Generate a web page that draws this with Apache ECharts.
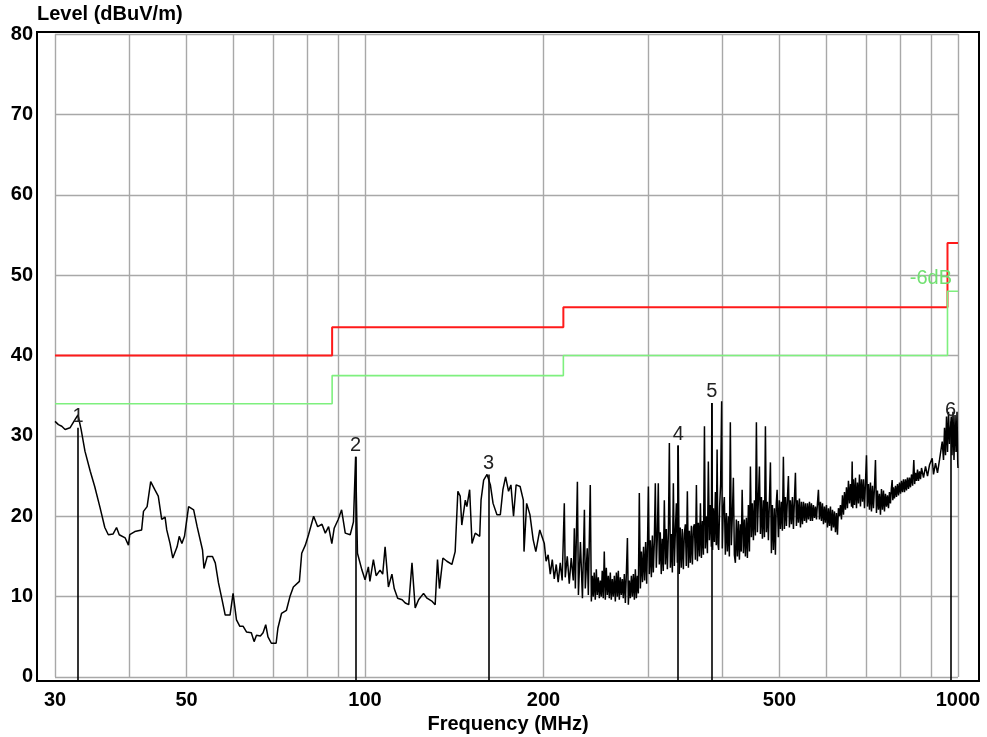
<!DOCTYPE html>
<html>
<head>
<meta charset="utf-8">
<script src="https://cdn.jsdelivr.net/npm/echarts@6/dist/echarts.min.js"></script>
<style>
  html, body { margin: 0; padding: 0; background: #fff; }
  #chart { width: 987px; height: 737px; }
</style>
</head>
<body>
<div id="chart"></div>
<script>
// Grid positions and tick labels (MHz / dBuV/m)
const freqTicks = [30, 40, 50, 60, 70, 80, 90, 100, 200, 300, 400, 500, 600, 700, 800, 900, 1000];
const freqLabels = [30, 50, 100, 200, 500, 1000];
const levelTicks = [0, 10, 20, 30, 40, 50, 60, 70, 80];

// Limit line (step edges in MHz, level per band) and the -6 dB margin line
const limitFreq = [30, 88, 216, 960, 1000];
const limitLevel = [40, 43.5, 46, 54];
const marginLevel = [34, 37.5, 40, 48];

// Measured sweep
const traceFreq = [
  30.0, 30.4, 30.8, 31.2, 31.8, 32.4, 32.8, 33.2, 33.7, 34.4, 35.0, 35.7, 36.4, 36.9, 37.6, 38.1, 38.5, 39.4, 39.9, 40.1,
  40.9, 42.0, 42.3, 42.9, 43.5, 44.2, 44.8, 45.4, 46.0, 46.3, 46.9, 47.4, 48.2, 48.6, 49.1, 49.6, 50.4, 51.4, 52.1, 53.2,
  53.5, 54.2, 55.3, 55.9, 56.6, 57.4, 58.1, 59.2, 59.9, 60.7, 61.5, 62.3, 63.1, 64.3, 65.0, 65.6, 66.6, 67.3, 68.0, 68.6,
  69.5, 70.8, 71.3, 72.3, 73.7, 74.7, 75.7, 77.5, 78.2, 79.3, 80.3, 81.9, 83.2, 84.6, 85.7, 86.8, 87.9, 88.7, 90.1, 91.3,
  92.6, 94.4, 95.6, 96.4, 97.1,
  98.8, 100.0, 101.3, 101.9, 103.3, 104.4, 106.0, 107.1, 108.1, 109.5, 111.0, 112.0, 113.5, 115.5, 116.9, 118.5, 120.0, 121.5,
  123.1, 125.5, 127.2, 129.8, 131.3, 132.5, 133.5, 135.3, 137.4, 140.1, 141.9, 143.4, 144.7, 145.6, 147.6, 148.5, 150.1, 151.5,
  153.4, 156.1, 156.9, 158.5, 160.6, 161.6, 162.7, 164.4, 166.9, 169.1, 170.8, 172.6, 174.6, 176.2, 178.0, 179.8, 182.6, 184.9,
  185.4, 187.3, 189.7, 192.1, 194.1, 197.1,
  200.6, 202.0, 203.6, 205.3, 206.9, 208.5, 210.1, 211.7, 213.4, 215.0, 216.8, 217.6, 219.3, 221.0, 222.7, 224.5, 225.4, 226.3,
  228.1, 229.0, 230.8, 232.6, 234.4, 235.2, 237.0, 238.0, 239.8,
  240.8, 241.7, 242.6, 243.5, 244.5, 245.5, 246.4, 247.4, 248.4, 249.3, 250.3, 251.2, 252.2, 253.2, 254.2, 255.2,
  256.2, 257.2, 258.2, 259.2, 260.2, 261.2, 262.2, 263.3, 264.3, 265.4, 266.4, 267.4, 268.4, 269.5, 270.5, 271.6,
  272.6, 273.7, 274.8, 275.9, 277.0, 278.0, 279.1, 280.2, 281.3, 282.4, 283.5, 284.6, 285.7, 286.8, 287.9, 289.0,
  290.1, 291.3, 292.5, 293.7, 294.9, 296.1, 297.3, 298.5, 299.6, 300.5, 301.6, 302.8, 304.0, 305.2, 306.3, 307.5, 308.7, 309.9, 311.1, 312.3,
  313.5, 314.7, 315.9, 317.1, 318.4, 319.7, 321.0, 322.2, 323.5, 324.8, 326.0, 327.3, 328.6, 329.8, 331.1, 332.4, 333.7, 335.0, 336.3, 337.4,
  338.8, 340.1, 341.5, 342.8, 344.2, 345.5, 346.9, 348.2, 349.6, 351.0, 352.4, 353.7, 355.1, 356.5, 357.9, 359.3, 360.7, 362.1, 363.5, 364.9,
  366.4, 367.8, 369.2, 370.7, 372.1, 373.6, 374.9, 376.4, 377.9, 379.3, 380.8, 382.3, 383.8, 384.4, 385.6, 386.8, 388.3, 389.8, 391.1, 392.4,
  393.6, 394.8, 396.3, 397.8, 399.4, 400.4, 401.8, 403.6, 405.2, 406.8, 408.4, 410.0, 411.5, 413.1, 414.7, 416.4, 418.0, 419.6, 421.3, 422.9,
  424.6, 426.2, 427.9, 429.5, 431.0, 432.5, 434.6, 436.3, 438.0, 439.7, 441.4, 443.1, 444.9, 446.6, 448.3, 450.0, 451.8, 453.5, 455.3, 457.1,
  458.9, 460.7, 462.5, 464.3, 466.1, 467.9, 469.8, 471.6, 473.4, 475.2, 477.0, 478.9, 480.8, 482.7, 484.5, 486.4, 488.3, 490.2, 492.1, 493.8,
  495.4, 497.8, 499.7, 501.7, 503.6, 505.6, 507.6, 509.6, 511.6, 513.6, 515.6, 517.6, 519.6, 521.6, 523.7, 525.7, 527.8, 529.8, 531.9, 534.0,
  536.0, 538.1, 540.2, 542.4, 544.5, 546.6, 548.8, 550.9, 553.0, 555.2, 557.3, 559.5, 561.7, 563.9, 566.0,
  568.2, 570.4, 572.7, 574.9, 577.2, 579.4, 581.6, 583.9, 586.2, 588.5, 590.8, 593.1, 595.4, 597.7, 600.0, 602.4, 604.7, 607.1, 609.4, 611.8,
  614.2, 616.6, 619.0, 621.4, 623.8, 626.2, 628.6, 631.1, 633.5, 636.0, 638.5, 641.0, 643.5, 646.0, 648.5, 651.0, 653.5, 656.1, 658.7, 661.3,
  663.0, 664.7, 666.4, 669.0, 671.6, 674.2, 676.8, 679.4, 682.1, 684.7, 687.4, 690.1, 692.8, 695.5, 698.2, 700.9, 703.6, 706.3, 709.1, 711.8,
  714.6, 717.4, 720.2, 723.0, 725.8, 728.6, 731.4, 734.3, 737.1, 740.0, 742.9, 745.8, 748.7, 751.6, 754.5, 757.5, 760.4, 763.4, 766.3, 769.3,
  772.0, 774.4, 776.4, 778.4, 781.4, 784.5, 787.5, 790.6, 793.7, 796.8, 799.9, 803.0, 806.1, 809.3, 812.4, 815.6, 818.7, 821.9, 825.1, 828.3,
  831.5, 834.8, 838.5, 842.3, 845.1, 847.9, 851.2, 854.5, 857.8, 861.2, 864.5,
  867.9, 874.7, 881.5, 888.4, 895.3, 904.7, 909.3, 916.4, 923.5, 930.7, 940.6, 945.3, 949.0, 952.7, 956.4, 960.2, 963.9, 967.7,
  974.1, 977.0, 980.8, 984.6, 988.5, 992.4, 996.2, 999.0, 1000.0
];
const traceLevel = [
  31.8, 31.4, 31.2, 30.8, 31.0, 32.0, 32.6, 30.8, 28.1, 25.6, 23.7, 21.2, 18.6, 17.7, 17.8, 18.6, 17.7, 17.3, 16.4, 17.7,
  18.1, 18.3, 20.6, 21.2, 24.3, 23.3, 22.5, 19.6, 19.9, 18.3, 16.6, 14.8, 16.2, 17.5, 16.6, 17.5, 21.2, 20.8, 18.7, 15.8,
  13.5, 15.0, 15.0, 14.2, 11.7, 9.6, 7.7, 7.7, 10.4, 7.1, 6.3, 6.3, 5.6, 5.5, 4.4, 5.2, 5.1, 5.5, 6.5, 5.0,
  4.2, 4.2, 6.1, 7.9, 8.3, 10.0, 11.2, 11.9, 15.4, 16.4, 17.7, 20.0, 18.7, 19.0, 17.9, 18.7, 16.6, 18.5, 19.6, 20.8,
  17.9, 17.7, 19.3, 27.4, 15.4,
  13.3, 12.1, 13.7, 11.9, 14.6, 12.6, 13.3, 12.8, 16.2, 11.2, 12.8, 11.0, 9.8, 9.6, 9.2, 9.0, 14.2, 8.6,
  9.6, 10.4, 9.8, 9.4, 9.0, 14.6, 11.0, 14.8, 14.4, 14.0, 15.6, 23.1, 22.5, 18.9, 22.0, 21.2, 23.3, 16.6,
  17.9, 17.5, 22.0, 24.5, 25.2, 25.2, 23.9, 21.6, 20.2, 20.2, 23.3, 24.9, 23.1, 23.9, 20.0, 23.9, 23.7, 22.0,
  15.6, 21.6, 20.2, 17.1, 15.6, 18.3,
  16.6, 14.4, 15.2, 12.8, 14.6, 12.2, 14.0, 11.8, 14.2, 12.0, 21.6, 12.4, 15.0, 11.6, 14.8, 12.0, 18.5, 11.0,
  24.3, 10.2, 16.8, 9.8, 20.8, 11.0, 16.0, 10.2, 23.9,
  9.4, 12.6, 10.0, 13.0, 9.6, 13.4, 10.2, 12.4, 9.8, 12.0, 10.0, 13.2, 9.8, 15.6, 9.6, 13.6,
  10.2, 12.6, 9.8, 13.0, 9.6, 12.2, 10.0, 12.6, 9.4, 13.0, 10.0, 13.2, 9.6, 12.4, 10.2, 12.2,
  9.8, 12.8, 9.2, 13.0, 17.3, 9.0, 12.0, 9.8, 12.6, 10.0, 12.8, 9.6, 13.4, 9.8, 12.6, 10.4,
  22.9, 11.0, 15.6, 11.8, 16.2, 12.0, 16.8, 11.6, 17.2, 23.7, 12.8, 17.0, 12.4, 17.6, 13.0, 16.8, 24.1, 13.6, 17.4, 24.1,
  14.0, 18.0, 12.8, 17.2, 13.2, 22.0, 14.0, 18.4, 13.4, 18.0, 29.1, 13.6, 17.8, 13.0, 24.1, 13.8, 18.2, 21.6, 14.2, 28.8,
  12.8, 18.6, 13.6, 18.4, 13.4, 17.8, 19.0, 13.8, 23.1, 13.6, 18.2, 14.2, 18.8, 14.0, 18.6, 19.0, 14.6, 23.9, 14.4, 19.2,
  15.0, 21.6, 14.8, 19.4, 15.2, 31.2, 16.0, 20.0, 15.4, 26.8, 17.0, 21.4, 16.2, 34.1, 15.8, 21.0, 16.8, 23.0, 16.4, 28.3,
  16.6, 15.8, 21.2, 24.0, 34.3, 16.0, 20.6, 22.4, 15.2, 20.4, 15.6, 20.0, 15.0, 31.7, 16.4, 20.2, 24.8, 15.2, 14.2, 19.6,
  15.0, 19.4, 14.6, 19.0, 15.6, 23.3, 15.4, 19.6, 15.0, 19.8, 14.8, 21.4, 15.6, 26.2, 17.4, 21.6, 17.0, 22.0, 17.6, 31.7,
  18.0, 22.2, 26.2, 17.8, 22.4, 17.2, 22.0, 17.4, 31.2, 18.0, 21.8, 17.0, 22.0, 26.7, 15.4, 21.4, 15.8, 21.0, 15.2, 21.6,
  23.3, 17.4, 22.0, 18.4, 21.8, 18.2, 27.4, 18.4, 22.4, 18.8, 22.2, 25.0, 18.6, 22.0, 19.0, 22.4, 18.4, 22.0, 25.4, 18.8,
  22.0, 19.2, 22.2, 18.6, 21.8, 19.0, 21.8, 19.4, 21.6, 19.2, 21.6, 19.6, 21.8, 19.4, 21.6,
  19.4, 21.4, 19.8, 21.2, 19.6, 21.6, 23.3, 19.6, 21.8, 19.4, 21.6, 19.0, 21.2, 19.2, 21.4, 18.6, 21.0, 18.8, 21.2, 18.2,
  20.8, 18.6, 20.6, 18.0, 20.4, 17.7, 21.0, 20.0, 21.4, 19.6, 22.6, 20.2, 23.0, 20.8, 23.6, 21.0, 24.4, 21.6, 24.0, 21.2,
  26.8, 21.0, 24.6, 21.4, 24.8, 21.0, 24.2, 21.6, 25.2, 21.2, 24.6, 21.8, 24.6, 21.0, 24.2, 27.6, 21.2, 24.0, 20.8, 24.2,
  20.6, 23.8, 21.0, 23.6, 27.0, 20.4, 23.2, 20.8, 22.8, 20.2, 23.4, 20.8, 23.2, 20.6, 22.8, 21.2, 22.6, 21.0, 23.0, 21.6,
  23.4, 24.5, 22.0, 23.6, 22.2, 23.8, 22.4, 24.0, 22.6, 24.2, 22.8, 24.4, 23.0, 24.6, 23.0, 24.6, 23.2, 24.8, 23.4, 24.8,
  23.6, 25.2, 23.8, 27.0, 24.0, 25.4, 24.4, 25.8, 24.4, 25.6, 24.6,
  26.0, 24.8, 26.2, 25.0, 26.4, 27.2, 25.2, 26.6, 25.4, 27.0, 29.3, 27.0, 31.0, 27.6, 32.4, 28.0, 33.0, 29.0,
  32.4, 27.6, 33.0, 27.0, 32.6, 28.0, 33.0, 26.6, 26.0
];

// Peak markers
const markerNames = ['1', '2', '3', '4', '5', '6'];
const markerFreq = [32.8, 96.4, 161.6, 337.4, 384.4, 971.7];
const markerLevel = [31.0, 27.4, 25.2, 28.8, 34.1, 31.8];

// Axis extents in log10(MHz) and dBuV/m; the plot frame is a little wider than the grid
const X_MIN = 1.44676, X_MAX = 3.03542;
const Y_MIN = -0.5, Y_MAX = 80.25;

const lg = Math.log10;
const FONT = "'Liberation Sans', Arial, sans-serif";

function stepLine(edges, levels) {
  const pts = [];
  for (let i = 0; i < levels.length; i++) {
    pts.push([lg(edges[i]), levels[i]], [lg(edges[i + 1]), levels[i]]);
  }
  return pts;
}

const gridLines = [
  ...freqTicks.map(f => [{ coord: [lg(f), levelTicks[0]] }, { coord: [lg(f), levelTicks[levelTicks.length - 1]] }]),
  ...levelTicks.map(v => [{ coord: [lg(freqTicks[0]), v] }, { coord: [lg(freqTicks[freqTicks.length - 1]), v] }])
];

const markerLines = markerFreq.map((f, i) => [
  { coord: [lg(f), markerLevel[i]], name: markerNames[i] },
  { coord: [lg(f), Y_MIN] }
]);

const chart = echarts.init(document.getElementById('chart'), null, { renderer: 'canvas' });
chart.setOption({
  animation: false,
  backgroundColor: '#fff',
  grid: {
    left: 37, right: 8, top: 32, bottom: 56,
    outerBoundsMode: 'none', containLabel: false,
    show: true, borderColor: '#000', borderWidth: 2, backgroundColor: 'transparent'
  },
  xAxis: {
    type: 'value', min: X_MIN, max: X_MAX,
    axisLine: { show: false }, axisTick: { show: false }, splitLine: { show: false },
    axisLabel: {
      customValues: freqLabels.map(lg),
      formatter: v => String(Math.round(Math.pow(10, v))),
      color: '#000', fontSize: 20, fontWeight: 'bold', fontFamily: FONT, margin: 9
    },
    name: 'Frequency (MHz)', nameLocation: 'middle', nameGap: 31,
    nameTextStyle: { color: '#000', fontSize: 20, fontWeight: 'bold', fontFamily: FONT }
  },
  yAxis: {
    type: 'value', min: Y_MIN, max: Y_MAX,
    axisLine: { show: false }, axisTick: { show: false }, splitLine: { show: false },
    axisLabel: {
      customValues: levelTicks,
      color: '#000', fontSize: 20, fontWeight: 'bold', fontFamily: FONT, margin: 4
    },
    name: 'Level (dBuV/m)', nameLocation: 'end', nameGap: 3,
    nameTextStyle: { color: '#000', fontSize: 20, fontWeight: 'bold', fontFamily: FONT, align: 'left', verticalAlign: 'bottom' }
  },
  series: [
    {
      type: 'line', data: [], z: 1, silent: true,
      markLine: {
        silent: true, z: 1, symbol: ['none', 'none'], animation: false,
        lineStyle: { color: '#a8a8a8', width: 1.4, type: 'solid' },
        label: { show: false }, emphasis: { disabled: true },
        data: gridLines
      }
    },
    {
      name: 'Limit', type: 'line', z: 3, silent: true, symbol: 'none',
      data: stepLine(limitFreq, limitLevel),
      lineStyle: { color: '#ff1a1a', width: 2 }, itemStyle: { color: '#ff1a1a' }
    },
    {
      name: 'Margin', type: 'line', z: 3, silent: true, symbol: 'none',
      data: stepLine(limitFreq, marginLevel),
      lineStyle: { color: '#7ef07e', width: 1.6 }, itemStyle: { color: '#7ef07e' },
      markPoint: {
        silent: true, symbol: 'circle', symbolSize: 0, animation: false,
        data: [{ coord: [lg(limitFreq[limitFreq.length - 1]), marginLevel[marginLevel.length - 1]] }],
        label: {
          show: true, formatter: '-6dB', position: 'left', distance: 6, offset: [0, -13],
          color: '#70e070', fontSize: 20, fontFamily: FONT
        }
      }
    },
    {
      name: 'Level', type: 'line', z: 4, silent: true, symbol: 'none',
      data: traceFreq.map((f, i) => [lg(f), traceLevel[i]]),
      lineStyle: { color: '#000', width: 1.5 }, itemStyle: { color: '#000' },
      markLine: {
        silent: true, symbol: ['none', 'none'], animation: false,
        lineStyle: { color: '#000', width: 1.6, type: 'solid' },
        emphasis: { disabled: true },
        label: {
          show: true, position: 'start', distance: 1, formatter: '{b}',
          color: '#222', fontSize: 20, fontFamily: FONT
        },
        data: markerLines
      }
    }
  ]
});
</script>
</body>
</html>
